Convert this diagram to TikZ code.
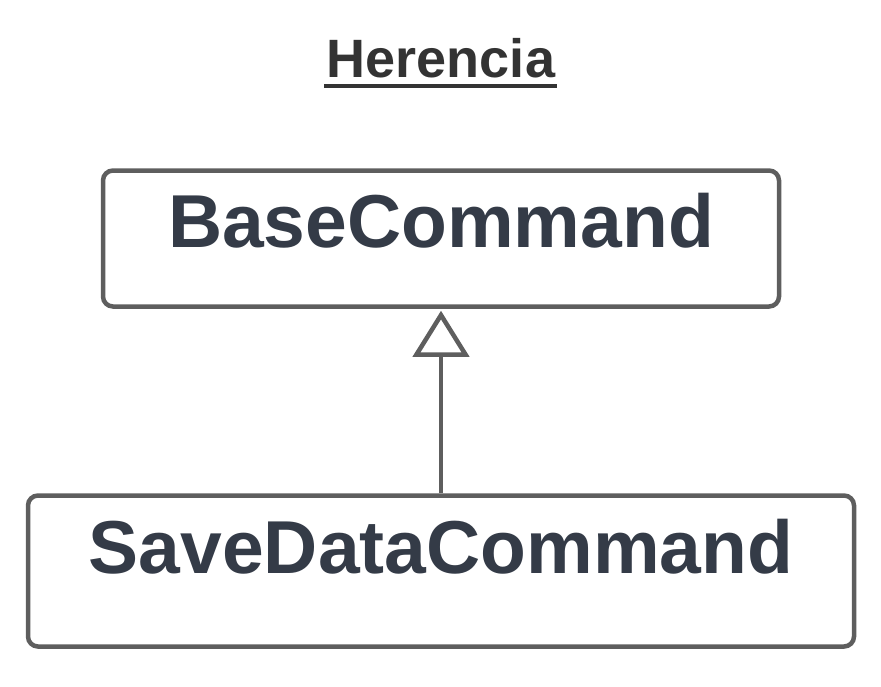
\documentclass[tikz,border=0pt]{standalone}
\usepackage{fontspec}
\setmainfont{Liberation Sans}
\usepackage{tikz}
\usetikzlibrary{arrows.meta, positioning}
\definecolor{boxgray}{HTML}{5E5E5E}
\definecolor{namecol}{HTML}{343B47}
\definecolor{titlecol}{HTML}{333333}

\begin{document}
\begin{tikzpicture}[x=1pt, y=-1pt,
                        classbox/.style={draw=boxgray, line width=4.5pt, rounded corners=10pt, inner sep=0pt},
                        classname/.style={anchor=base, text=namecol, font=\fontsize{75}{80}\selectfont\bfseries, inner sep=0pt},
                        inherits/.style={draw=boxgray, line width=4.5pt, -{Triangle[open, length=46pt, width=56pt]}}]
                        \useasboundingbox (0,0) rectangle (881,686);
                        \node[anchor=base, text=titlecol, font=\fontsize{54}{58}\selectfont\bfseries, inner sep=0pt] (title) at (441,77) {Herencia};
                        \draw[titlecol, line width=4.5pt] (324,86) -- (557,86);
                        \node[classbox, minimum width=676pt, minimum height=136pt] (base) at (441,238.5) {};
                        \node[classname] (basename) at (441,247) {BaseCommand};
                        \node[classbox, minimum width=826pt, minimum height=151pt] (save) at (441,571) {};
                        \node[classname] (savename) at (441,573) {SaveDataCommand};
                        \draw[inherits] (save.north) -- ([yshift=-2pt]base.south);
                \end{tikzpicture}
\end{document}
